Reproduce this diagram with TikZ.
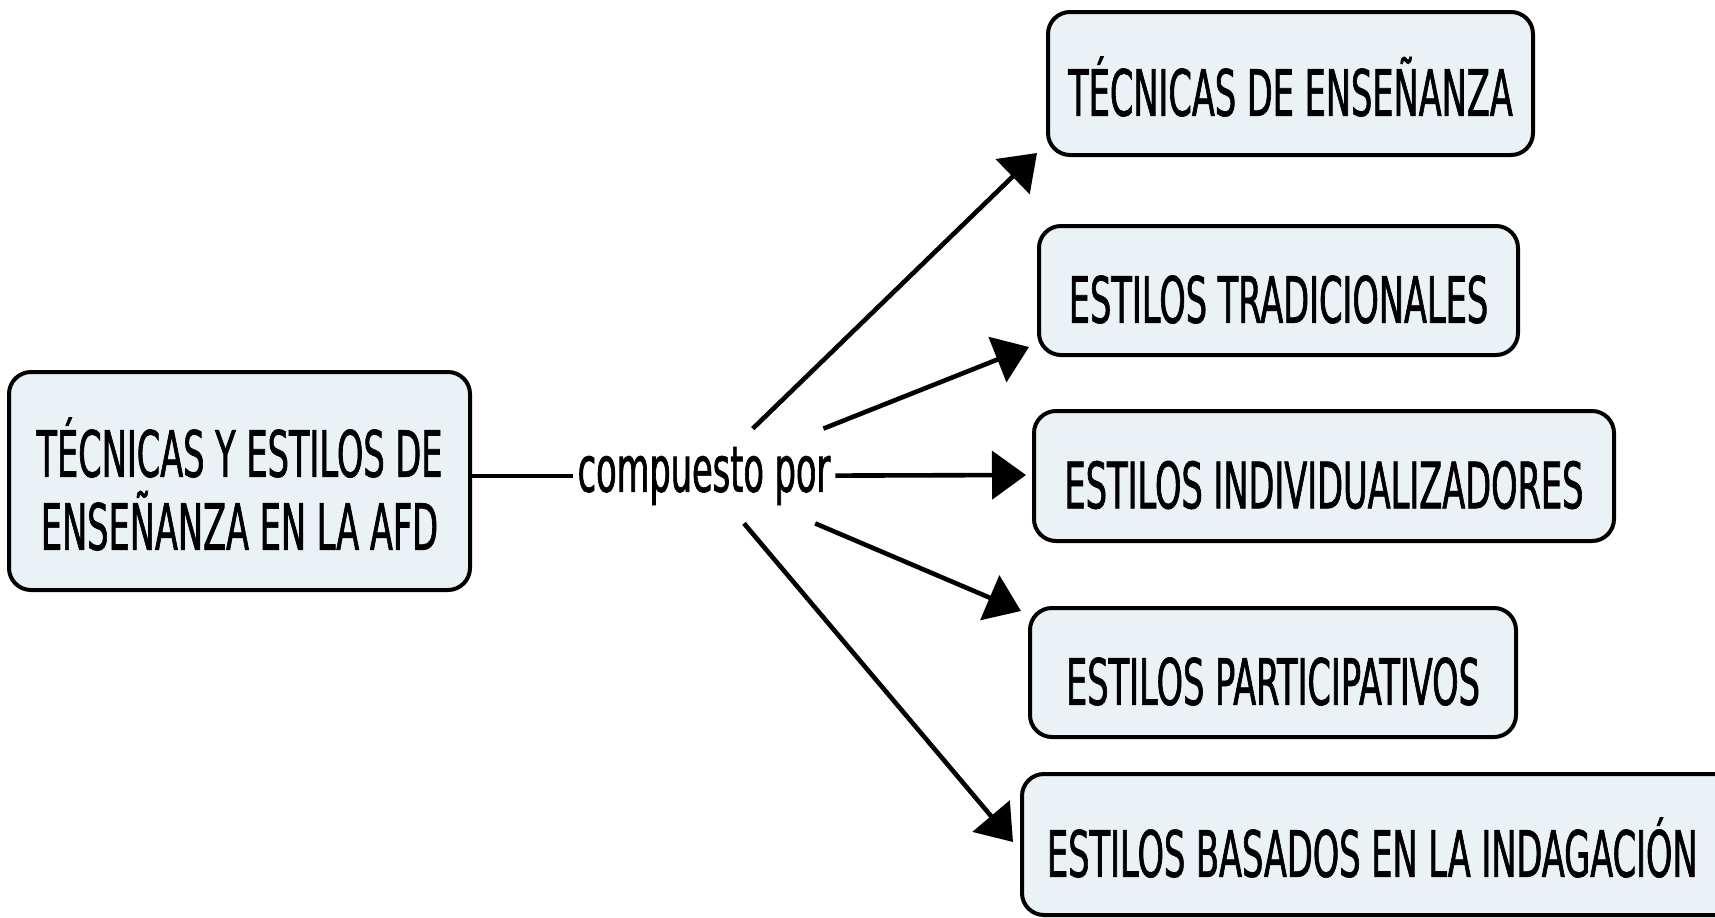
\documentclass[tikz,border=0pt]{standalone}
\usepackage{fontspec}
\setmainfont{DejaVu Sans}[FakeStretch=0.525,FakeBold=1]
\usetikzlibrary{arrows.meta}
\definecolor{boxfill}{RGB}{234,242,245}
\newcommand\mytop{\rule{0pt}{1.21em}}
\newcommand\mybot{\rule[-0.2em]{0pt}{0.2em}}
\begin{document}
\begin{tikzpicture}[x=0.5pt,y=-0.5pt,
  box/.style={draw=black, line width=2pt, fill=boxfill, rounded corners=11pt,
    inner sep=0pt, align=center, font=\fontsize{32}{36.5}\selectfont},
  lbltext/.style={inner sep=0pt, font=\fontsize{32}{36.5}\selectfont,
    minimum width=131pt, minimum height=47pt},
  conn/.style={line width=2.3pt},
  arr/.style={line width=2.3pt, -{Triangle[length=17pt,width=24pt]}}]
\useasboundingbox (0,0) rectangle (1715,917);
\clip (0,0) rectangle (1715,917);
\fill[white] (0,0) rectangle (1715,917);

\node[box, minimum width=230.5pt, minimum height=109pt] (main) at (239.5,481)
  {\mytop T\'ECNICAS Y ESTILOS DE\\ENSE\~NANZA EN LA AFD\mybot};

\node[lbltext] (lbl) at (704,476) {\rule[-0.21em]{0pt}{0.76em}compuesto por};

\node[box, minimum width=242.5pt, minimum height=71.5pt] (b1) at (1290.5,83.5)
  {\mytop T\'ECNICAS DE ENSE\~NANZA\mybot};
\node[box, minimum width=239.5pt, minimum height=64.5pt] (b2) at (1278.5,290.5)
  {\mytop ESTILOS TRADICIONALES\mybot};
\node[box, minimum width=290pt, minimum height=65pt] (b3) at (1324,476)
  {\mytop ESTILOS INDIVIDUALIZADORES\mybot};
\node[box, minimum width=243pt, minimum height=64.5pt] (b4) at (1273,672.5)
  {\mytop ESTILOS PARTICIPATIVOS\mybot};
\node[box, minimum height=70.5pt, inner xsep=12.5pt,
  text width=360pt, align=flush left] (b5) at (1407,844.5)
  {\mytop ESTILOS BASADOS EN LA INDAGACI\'ON\mybot};

\draw[conn] (main.east |- lbl) -- (lbl);
\draw[arr] (lbl) -- ([shift={(-9,-4)}]b1.south west);
\draw[arr] (lbl) -- ([shift={(-8,-10)}]b2.south west);
\draw[arr] (lbl) -- ([shift={(-6,-1)}]b3.west);
\draw[arr] (lbl) -- ([shift={(-7,5)}]b4.north west);
\draw[arr] (lbl) -- ([shift={(-7,-2.5)}]b5.west);
\end{tikzpicture}
\end{document}
